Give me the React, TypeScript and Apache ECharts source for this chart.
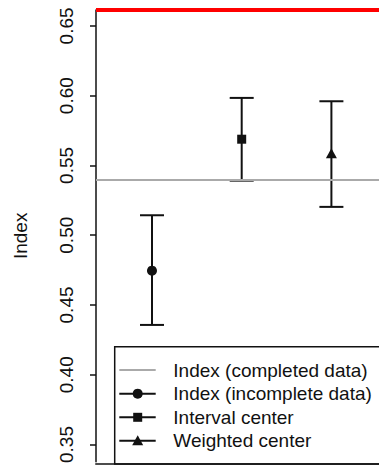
import React, { useEffect, useRef } from "react";
import * as echarts from "echarts";

const methods = ["Index (incomplete data)", "Interval center", "Weighted center"];
const xPositions = [1, 2, 3];
const centers = [0.4746, 0.5688, 0.5588];
const lowers = [0.4357, 0.5391, 0.5203];
const uppers = [0.5143, 0.5984, 0.596];
const completedIndex = 0.5386;
const yTicks = [0.35, 0.4, 0.45, 0.5, 0.55, 0.6, 0.65];
const legendLabels = [
  "Index (completed data)",
  "Index (incomplete data)",
  "Interval center",
  "Weighted center",
];
const markerSymbols = ["circle", "rect", "triangle"];

const FONT = "'Liberation Sans', Arial, Helvetica, sans-serif";
const INK = "#111";
const FS = 19;

export default function App() {
  const ref = useRef<HTMLDivElement>(null);
  useEffect(() => {
    if (!ref.current) return;
    const chart = echarts.init(ref.current, undefined, { renderer: "svg" });

    const markerSizes: any[] = [10, 9, [11, 10]];
    const errData = xPositions.map((x, i) => [x, lowers[i], uppers[i]]);
    const pointData = xPositions.map((x, i) => ({
      value: [x, centers[i]],
      name: methods[i],
      symbol: markerSymbols[i],
      symbolSize: markerSizes[i],
    }));

    const gLeft = 96;
    const gTop = 10;
    const gBottom = 2;
    const gRight = 14;
    const W = 430;
    const H = 466;

    const lgLeft = 114.7;
    const lgTop = 346.7;
    const rowY = [370, 393.7, 417.3, 440.7];
    const lineX1 = 119.3;
    const lineX2 = 155.7;
    const symX = 137.7;
    const textX = 173.3;
    const els: any[] = [
      {
        type: "rect",
        shape: { x: lgLeft, y: lgTop, width: 400, height: H - gBottom - lgTop },
        style: { fill: "#fff", stroke: INK, lineWidth: 1.5 },
        z: 100,
      },
      { type: "rect", shape: { x: gLeft, y: 8, width: 300, height: 4 }, style: { fill: "red" }, z: 200 },
      { type: "rect", shape: { x: gLeft - 0.75, y: H - gBottom - 0.8, width: W - gRight - gLeft + 1.5, height: 1.6 }, style: { fill: INK }, z: 200 },
    ];
    legendLabels.forEach((label, i) => {
      const y = rowY[i];
      els.push({
        type: "line",
        shape: { x1: lineX1, y1: y, x2: lineX2, y2: y },
        style: { stroke: i === 0 ? "#aaaaaa" : INK, lineWidth: 2 },
        z: 101,
      });
      if (i === 1) {
        els.push({ type: "circle", shape: { cx: symX, cy: y, r: 5 }, style: { fill: INK }, z: 102 });
      } else if (i === 2) {
        els.push({ type: "rect", shape: { x: symX - 4.5, y: y - 4.5, width: 9, height: 9 }, style: { fill: INK }, z: 102 });
      } else if (i === 3) {
        els.push({
          type: "polygon",
          shape: { points: [[symX, y - 5.5], [symX + 5.5, y + 4.5], [symX - 5.5, y + 4.5]] },
          style: { fill: INK },
          z: 102,
        });
      }
      els.push({
        type: "text",
        x: textX,
        y: y,
        style: {
          text: label,
          font: `${FS}px ${FONT}`,
          fill: INK,
          textAlign: "left",
          textVerticalAlign: "middle",
        },
        z: 102,
      });
    });

    chart.setOption({
      animation: false,
      backgroundColor: "#fff",
      textStyle: { fontFamily: FONT },
      grid: { show: false, left: gLeft, top: gTop, bottom: gBottom, right: gRight },
      xAxis: {
        type: "value",
        min: 0.376,
        max: 3.943,
        show: false,
        splitLine: { show: false },
      },
      yAxis: {
        type: "value",
        min: 0.3377,
        max: 0.6614,
        name: "Index",
        nameLocation: "middle",
        nameRotate: 90,
        nameGap: 66,
        nameTextStyle: { fontFamily: FONT, fontSize: FS, color: INK },
        axisLine: { show: true, lineStyle: { color: INK, width: 1.5 } },
        axisTick: { show: true, length: 6, lineStyle: { color: INK, width: 1.5 }, customValues: yTicks },
        axisLabel: {
          show: true,
          rotate: 90,
          margin: 20,
          fontFamily: FONT,
          fontSize: FS,
          color: INK,
          customValues: yTicks,
          formatter: (v: number) => v.toFixed(2),
        },
        splitLine: { show: false },
      },
      graphic: { elements: els },
      series: [
        {
          type: "custom",
          name: "error bars",
          data: errData,
          silent: true,
          z: 3,
          renderItem: (params: any, api: any) => {
            const x = api.value(0);
            const pLo = api.coord([x, api.value(1)]);
            const pHi = api.coord([x, api.value(2)]);
            const hw = 12;
            return {
              type: "group",
              children: [
                { type: "line", shape: { x1: pLo[0], y1: pLo[1], x2: pHi[0], y2: pHi[1] }, style: { stroke: INK, lineWidth: 2 } },
                { type: "line", shape: { x1: pLo[0] - hw, y1: pLo[1], x2: pLo[0] + hw, y2: pLo[1] }, style: { stroke: INK, lineWidth: 2 } },
                { type: "line", shape: { x1: pHi[0] - hw, y1: pHi[1], x2: pHi[0] + hw, y2: pHi[1] }, style: { stroke: INK, lineWidth: 2 } },
              ],
            };
          },
          markLine: {
            silent: true,
            symbol: "none",
            label: { show: false },
            lineStyle: { color: "#aaaaaa", width: 2, type: "solid" },
            data: [{ yAxis: completedIndex }],
          },
        },
        {
          type: "scatter",
          name: "centers",
          data: pointData,
          z: 4,
          itemStyle: { color: INK, opacity: 1 },
          silent: true,
        },
      ],
    });
    return () => chart.dispose();
  }, []);

  return (
    <div style={{ position: "absolute", left: 0, top: 0, width: 379, height: 466, overflow: "hidden", background: "#fff" }}>
      <div ref={ref} style={{ width: 430, height: 466 }} />
    </div>
  );
}
